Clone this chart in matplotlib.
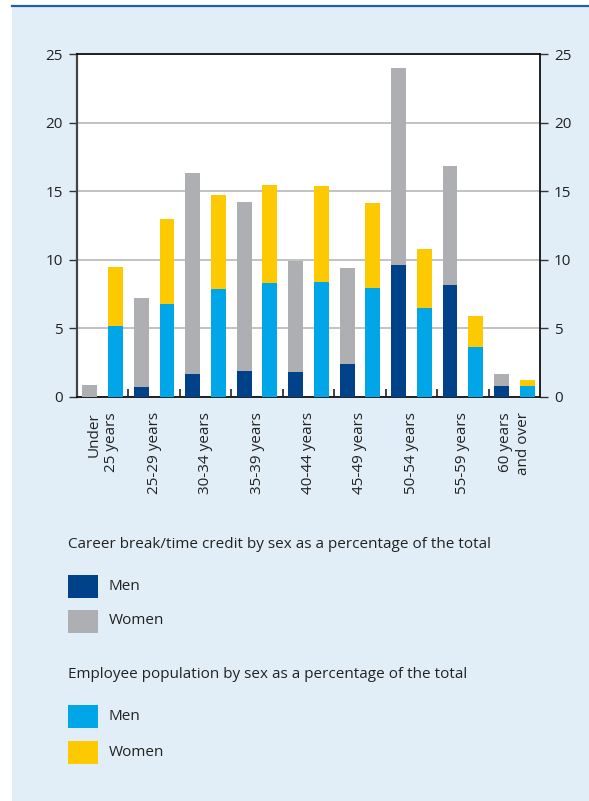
import numpy as np
import matplotlib.pyplot as plt
from matplotlib.patches import Rectangle
from matplotlib.lines import Line2D

plt.rcParams['font.family'] = ['Open Sans', 'DejaVu Sans']

# data
groups = ["Under\n25 years", "25-29 years", "30-34 years", "35-39 years", "40-44 years",
          "45-49 years", "50-54 years", "55-59 years", "60 years\nand over"]
cb_men = [0.0, 0.73, 1.68, 1.9, 1.82, 2.4, 9.62, 8.16, 0.8]
cb_women = [0.87, 6.47, 14.65, 12.3, 8.08, 7.0, 14.36, 8.68, 0.88]
emp_men = [5.17, 6.78, 7.87, 8.3, 8.38, 7.94, 6.49, 3.64, 0.8]
emp_women = [4.3, 6.19, 6.85, 7.15, 7.0, 6.2, 4.3, 2.26, 0.44]
yticks = [0, 5, 10, 15, 20, 25]

NAVY = "#00428a"
GREY = "#aeafb3"
CYAN = "#00a6e8"
YELLOW = "#fdc900"
PANEL = "#e1eef7"

fig = plt.figure(figsize=(5.89, 8.01), dpi=100)
fig.patch.set_facecolor("white")
fig.patches.append(Rectangle((12 / 589, 0), 1, 1 - 7 / 801, transform=fig.transFigure,
                             facecolor=PANEL, edgecolor="none", zorder=-5))
fig.lines.append(Line2D([12 / 589, 1], [1 - 6 / 801, 1 - 6 / 801], transform=fig.transFigure,
                        color="#2060a8", lw=1.6))

ax = fig.add_axes([77 / 589, 1 - 397 / 801, 463 / 589, 343 / 801])
ax.set_zorder(5)
ax.set_facecolor("white")
x = np.arange(len(groups))
w = 0.29
ax.bar(x - 0.25, cb_men, w, color=NAVY, zorder=3)
ax.bar(x - 0.25, cb_women, w, bottom=cb_men, color=GREY, zorder=3)
ax.bar(x + 0.25, emp_men, w, color=CYAN, zorder=3)
ax.bar(x + 0.25, emp_women, w, bottom=emp_men, color=YELLOW, zorder=3)

ax.set_xlim(-0.5, len(groups) - 0.5)
ax.set_ylim(0, 25)
ax.set_yticks(yticks)
ax.yaxis.grid(True, color="#bdbdbd", lw=1.3, zorder=1)
ax.tick_params(axis="y", direction="out", length=6, width=1, color="#333333",
               labelsize=11, labelcolor="#222222", pad=4, right=True, labelright=True)
ax.set_xticks(x)
ax.set_xticklabels(groups, rotation=90, ha="center", va="top", multialignment="right",
                   fontsize=11, color="#222222", linespacing=1.25)
ax.tick_params(axis="x", length=0, pad=11)
ax.set_xticks(np.arange(len(groups) - 1) + 0.5, minor=True)
ax.tick_params(axis="x", which="minor", direction="in", length=6, width=1.2, color="#222222")

for side in ["top", "bottom", "right"]:
    ax.spines[side].set_color("#111111")
    ax.spines[side].set_linewidth(1.3)
ax.spines["left"].set_color("#444444")
ax.spines["left"].set_linewidth(1.6)

# legend
def fy(py):
    return 1 - py / 801

txt = "#222222"
fig.text(68 / 589, fy(544), "Career break/time credit by sex as a percentage of the total",
         fontsize=11, color=txt, va="center")
fig.text(68 / 589, fy(674), "Employee population by sex as a percentage of the total",
         fontsize=11, color=txt, va="center")
items = [(NAVY, "Men", 586), (GREY, "Women", 621), (CYAN, "Men", 716), (YELLOW, "Women", 752)]
for col, lab, cy in items:
    fig.patches.append(Rectangle((68 / 589, fy(cy + 11.5)), 30 / 589, 23 / 801,
                                 transform=fig.transFigure, facecolor=col, edgecolor="none"))
    fig.text(109 / 589, fy(cy), lab, fontsize=11, color=txt, va="center")

fig.savefig("out.png", dpi=100, facecolor=fig.get_facecolor())
